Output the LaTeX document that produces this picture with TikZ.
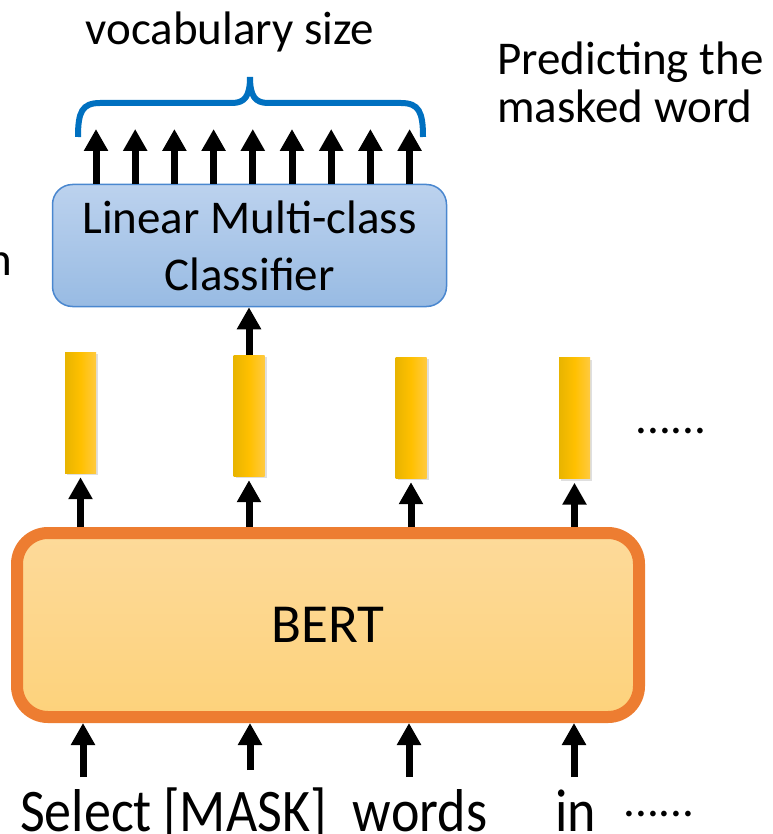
\documentclass[tikz,border=0pt]{standalone}
\usepackage{fontspec}
\setmainfont{Carlito}
\usetikzlibrary{arrows.meta,shadows}
\definecolor{bracec}{HTML}{0070C0}
\definecolor{clsT}{HTML}{BCD2EE}
\definecolor{clsBot}{HTML}{98BBE3}
\definecolor{clsB}{HTML}{4A87CF}
\definecolor{barL}{HTML}{E8B400}
\definecolor{barM}{HTML}{FFC000}
\definecolor{barR}{HTML}{FFCA40}
\definecolor{bertB}{HTML}{ED7D31}
\definecolor{bertT}{HTML}{FDDA9A}
\definecolor{bertBot}{HTML}{FDD27B}
\tikzset{
  arr/.style={line width=7pt, -{Triangle[width=23pt,length=22pt]}},
  vecbar/.style={draw=none, minimum width=31pt, minimum height=121pt, inner sep=0pt,
    left color=barL, right color=barR, middle color=barM,
    drop shadow={opacity=0.25, shadow xshift=2pt, shadow yshift=-2pt}},
  bigtxt/.style={font=\fontsize{47}{57}\selectfont, inner sep=0pt},
  wordtxt/.style={font=\fontsize{54}{60}\selectfont, inner sep=0pt, anchor=base},
}
\begin{document}
\begin{tikzpicture}[x=1pt,y=-1pt]
\useasboundingbox (0,0) rectangle (772,834);

% classifier
\node[draw=clsB, line width=1.5pt, rounded corners=20pt, top color=clsT, bottom color=clsBot,
      minimum width=394pt, minimum height=122pt, inner sep=0pt, align=center, bigtxt]
      (cls) at (249.5,245.5) {Linear Multi-class\\Classifier};

% output arrows
\foreach \x [count=\i] in {96,135.2,174.4,213.6,252.8,292,331.2,370.4,409.6}{
  \coordinate (o\i) at (\x,129);
  \draw[arr] (o\i |- cls.north) -- (o\i);
}

% brace
\draw[bracec, line width=6pt, line cap=butt]
  (78,137) .. controls (78,112) and (82,103) .. (100,103) -- (232,103)
  .. controls (245,103) and (250,96) .. (250,77)
  .. controls (250,96) and (255,103) .. (268,103) -- (401,103)
  .. controls (419,103) and (423,112) .. (423,137);

\node[bigtxt, anchor=base] (voc) at (230,45) {vocabulary size};
\node[bigtxt, anchor=base west, align=left, font=\fontsize{47}{48}\selectfont] (pred) at (497,123) {Predicting the\\masked word};
\node[bigtxt, anchor=base east] (nn) at (12,275) {n};

% BERT
\node[draw=bertB, line width=12pt, rounded corners=31pt, top color=bertT, bottom color=bertBot,
      minimum width=622pt, minimum height=184pt, inner sep=0pt, font=\fontsize{55}{60}\selectfont]
      (bert) at (328,625) {BERT};

% vectors
\node[vecbar] (h1) at (80.5,412.5) {};
\node[vecbar] (h2) at (249,415.5) {};
\node[vecbar] (h3) at (411,417.5) {};
\node[vecbar] (h4) at (574.5,418) {};
\node[bigtxt, anchor=base] (dr) at (671,433) {......};

\foreach \i in {1,2,3,4}{
  \draw[arr, shorten >=4pt] (h\i.south |- bert.north) -- (h\i.south);
}
\draw[arr] (h2.north) -- (h2.north |- cls.south);

% inputs
\coordinate (b1) at (83,777);
\coordinate (b2) at (250,770);
\coordinate (b3) at (409,777);
\coordinate (b4) at (574,777);
\foreach \i in {1,2,3,4}{
  \draw[arr] (b\i) -- (b\i |- bert.south);
}

\node[wordtxt] (w1) at (86,831) {\scalebox{1}[1.12]{Select}};
\node[wordtxt] (w2) at (245,831) {\scalebox{1}[1.12]{[MASK]}};
\node[wordtxt] (w3) at (420,831) {\scalebox{1}[1.12]{words}};
\node[wordtxt] (w4) at (576,831) {\scalebox{1}[1.12]{in}};
\node[bigtxt, anchor=base] (w5) at (659,816) {......};
\end{tikzpicture}
\end{document}
